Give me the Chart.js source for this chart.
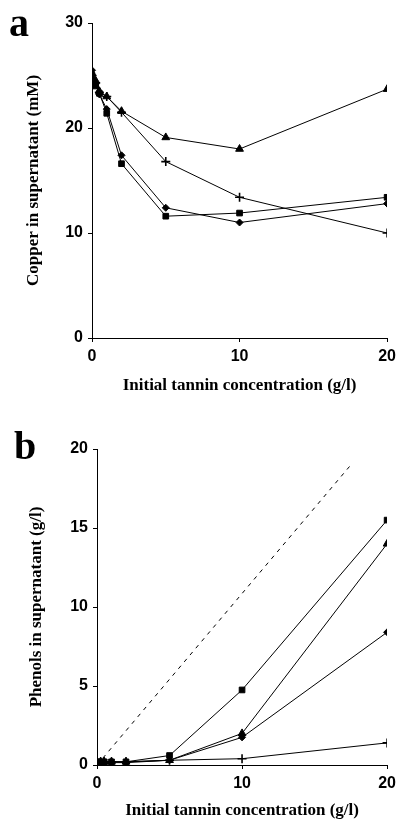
<!DOCTYPE html>
<html>
<head>
<meta charset="utf-8">
<script src="https://cdn.jsdelivr.net/npm/chart.js@4"></script>
<style>
  body { margin: 0; background: #fff; width: 401px; height: 821px; position: relative; overflow: hidden; }
  .box { position: absolute; left: 0; width: 401px; }
  .panel { position: absolute; font-family: "Liberation Serif", serif; font-weight: bold; font-size: 40px; line-height: 1; color: #000; }
</style>
</head>
<body>
<div class="box" style="top:0;height:410px"><canvas id="chartA" width="401" height="410"></canvas></div>
<div class="box" style="top:410px;height:411px"><canvas id="chartB" width="401" height="411"></canvas></div>
<div class="panel" style="left:9px;top:3px">a</div>
<div class="panel" style="left:14px;top:426px">b</div>
<script>
// tannin doses (g/l)
const tannin = [0, 0.25, 0.5, 1, 2, 5, 10, 20];

// panel a: copper left in supernatant (mM)
const cuTriangle = [25.2, 24.5, 23.5, 23.0, 21.6, 19.1, 18.0, 23.7];
const cuPlus     = [25.0, 24.3, 23.4, 23.0, 21.5, 16.8, 13.4, 10.0];
const cuDiamond  = [25.5, 24.2, 23.2, 21.8, 17.4, 12.4, 11.0, 12.8];
const cuSquare   = [25.0, 24.0, 23.3, 21.4, 16.6, 11.6, 11.9, 13.4];

// panel b: phenols left in supernatant (g/l)
const phSquare   = [0.2, 0.2, 0.2, 0.2, 0.2, 0.6, 4.75, 15.5];
const phTriangle = [0.2, 0.2, 0.2, 0.2, 0.2, 0.3, 2.0, 14.0];
const phDiamond  = [0.15, 0.15, 0.15, 0.15, 0.15, 0.3, 1.75, 8.4];
const phPlus     = [0.2, 0.2, 0.2, 0.2, 0.2, 0.3, 0.4, 1.4];
// dashed reference line (no precipitation)
const refX = [0, 17.6];
const refY = [0, 19.1];

const toXY = (xs, ys) => xs.map((x, i) => ({ x: x, y: ys[i] }));

const series = (data, style, radius) => ({
    data: toXY(tannin, data),
    borderColor: '#000',
    backgroundColor: '#000',
    borderWidth: 1,
    pointStyle: style,
    pointRadius: radius,
    pointBorderWidth: style === 'cross' ? 1.6 : 1,
    tension: 0
});

const tickFont = { family: '"Liberation Sans", Arial, sans-serif', weight: 'bold', size: 16 };
const titleFont = { family: '"Liberation Serif", "Times New Roman", serif', weight: 'bold', size: 17 };

function makeChart(id, datasets, yMax, yStep, yTitle, geo) {
    const ctx = document.getElementById(id).getContext('2d');
    new Chart(ctx, {
        type: 'line',
        data: { datasets: datasets },
        options: {
            responsive: false,
            animation: false,
            layout: { padding: { left: 0, right: geo.right, top: geo.top, bottom: geo.bottom } },
            plugins: { legend: { display: false }, tooltip: { enabled: false } },
            scales: {
                x: {
                    type: 'linear',
                    min: 0, max: 20,
                    border: { color: '#000', width: 1 },
                    grid: { drawOnChartArea: false, color: '#000', tickLength: 4 },
                    ticks: { stepSize: 10, color: '#000', font: tickFont, padding: 5, maxRotation: 0 },
                    title: { display: true, text: 'Initial tannin concentration (g/l)', color: '#000', font: titleFont, padding: { top: 0, bottom: geo.xTitlePad } },
                    afterFit: s => { s.height = geo.xHeight; }
                },
                y: {
                    min: 0, max: yMax,
                    border: { color: '#000', width: 1 },
                    grid: { drawOnChartArea: false, color: '#000', tickLength: 4 },
                    ticks: { stepSize: yStep, color: '#000', font: tickFont, padding: 5 },
                    title: { display: true, text: yTitle, color: '#000', font: titleFont, padding: { top: geo.yTitlePad, bottom: 0 } },
                    afterFit: s => { s.width = geo.yWidth; }
                }
            }
        }
    });
}

makeChart('chartA', [
    series(cuTriangle, 'triangle', 4.5),
    series(cuPlus, 'cross', 4.5),
    series(cuDiamond, 'rectRot', 3.5),
    series(cuSquare, 'rect', 4)
], 30, 10, 'Copper in supernatant (mM)',
   { right: 12, top: 23, bottom: 0, xHeight: 72, yWidth: 92, xTitlePad: 14, yTitlePad: 23 });

makeChart('chartB', [
    {
        data: toXY(refX, refY),
        borderColor: '#000',
        borderWidth: 1,
        borderDash: [4, 5],
        pointRadius: 0
    },
    series(phSquare, 'rect', 4),
    series(phTriangle, 'triangle', 4.5),
    series(phDiamond, 'rectRot', 3.5),
    series(phPlus, 'cross', 4.5)
], 20, 5, 'Phenols in supernatant (g/l)',
   { right: 8, top: 39, bottom: 0, xHeight: 56, yWidth: 97, xTitlePad: 0, yTitlePad: 26 });
</script>
</body>
</html>
